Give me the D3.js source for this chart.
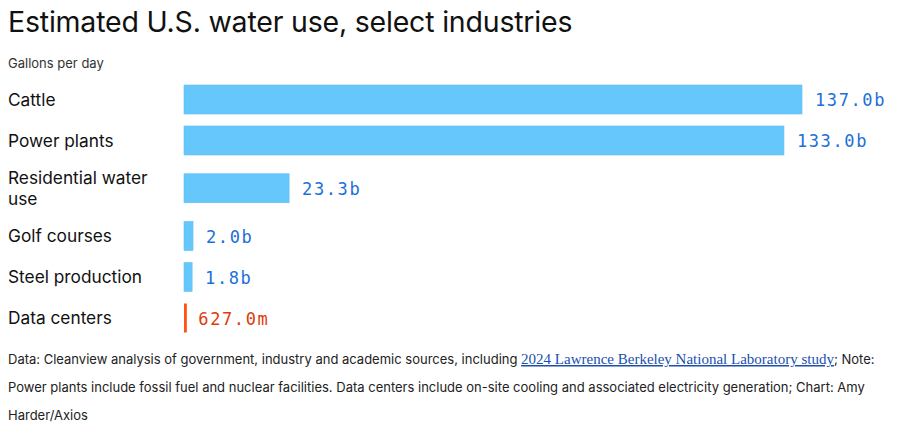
<!DOCTYPE html>
<html>
<head>
<meta charset="utf-8">
<script src="https://cdn.jsdelivr.net/npm/d3@7"></script>
<style>
  html, body { margin: 0; padding: 0; background: #fff; }
  svg { display: block; }
</style>
</head>
<body>
<svg id="chart" width="900" height="432"></svg>
<script>
const categories = ["Cattle", "Power plants", "Residential water use", "Golf courses", "Steel production", "Data centers"];
const values = [137.0, 133.0, 23.3, 2.0, 1.8, 0.627]; // billions of gallons per day
const highlight = ["Data centers"];
const title = "Estimated U.S. water use, select industries";
const subtitle = "Gallons per day";
const noteLines = [
  [{t: "Data: Cleanview analysis of government, industry and academic sources, including "},
   {t: "2024 Lawrence Berkeley National Laboratory study", link: true},
   {t: "; Note:"}],
  [{t: "Power plants include fossil fuel and nuclear facilities. Data centers include on-site cooling and associated electricity generation; Chart: Amy"}],
  [{t: "Harder/Axios"}]
];

const svg = d3.select("#chart");
const sans = "Inter, Roboto, 'Noto Sans', sans-serif";
const mono = "'DejaVu Sans Mono', 'Liberation Mono', monospace";

svg.append("text").attr("x", 8).attr("y", 32)
  .attr("font-family", sans).attr("font-size", 28.5).attr("fill", "#111")
  .attr("letter-spacing", -0.2)
  .text(title);

svg.append("text").attr("x", 8).attr("y", 68)
  .attr("font-family", sans).attr("font-size", 13).attr("fill", "#333")
  .text(subtitle);

// Label wrapping
const labelMax = 160;
const labelSize = 17.3;
const measure = svg.append("text").attr("font-family", sans).attr("font-size", labelSize);
function wrap(s) {
  const words = s.split(" ");
  const lines = [];
  let cur = "";
  words.forEach(w => {
    const test = cur ? cur + " " + w : w;
    measure.text(test);
    if (measure.node().getComputedTextLength() > labelMax && cur) {
      lines.push(cur); cur = w;
    } else cur = test;
  });
  lines.push(cur);
  return lines;
}
const wrapped = categories.map(wrap);
measure.remove();

// Row layout
const baseRow = 41, extraLine = 13.5, barH = 29, top0 = 79;
const rowH = wrapped.map(l => baseRow + (l.length - 1) * extraLine);
const rowTop = [];
let acc = top0;
rowH.forEach(h => { rowTop.push(acc); acc += h; });
const yTop = d3.scaleOrdinal().domain(categories).range(rowTop);
const yH = d3.scaleOrdinal().domain(categories).range(rowH);
const yCenter = c => yTop(c) + yH(c) / 2;

const x = d3.scaleLinear().domain([0, d3.max(values)]).range([184, 802]);

const data = categories.map((c, i) => ({c, v: values[i], lines: wrapped[i], hi: highlight.includes(c)}));

const fmt = v => v >= 1 ? v.toFixed(1) + "b" : (v * 1000).toFixed(1) + "m";

const g = svg.append("g");
// Labels
data.forEach(d => {
  const n = d.lines.length;
  const lh = 21;
  const cy = yCenter(d.c);
  const firstBase = cy + 6 - (n - 1) * lh / 2;
  const t = g.append("text").attr("font-family", sans).attr("font-size", labelSize).attr("fill", "#111");
  d.lines.forEach((ln, k) => {
    t.append("tspan").attr("x", 8).attr("y", firstBase + k * lh).text(ln);
  });
});

// Bars
g.selectAll("rect.bar").data(data).join("rect")
  .attr("class", "bar")
  .attr("x", x(0))
  .attr("y", d => yCenter(d.c) - barH / 2)
  .attr("width", d => x(d.v) - x(0))
  .attr("height", barH)
  .attr("fill", d => d.hi ? "#ff5215" : "#66c7fd")
  .attr("stroke", d => d.hi ? "none" : "#5ec0f6")
  .attr("stroke-width", 0.6);

// Value labels
g.selectAll("text.val").data(data).join("text")
  .attr("class", "val")
  .attr("x", d => x(d.v) + (d.hi ? 11.5 : 13))
  .attr("y", d => yCenter(d.c) + 6.5)
  .attr("font-family", mono).attr("font-size", 17)
  .attr("letter-spacing", 1.6)
  .attr("fill", d => d.hi ? "#de3c0c" : "#1d6fd8")
  .text(d => fmt(d.v));

// Footnote
const noteG = svg.append("g");
noteLines.forEach((parts, i) => {
  const t = noteG.append("text").attr("x", 8).attr("y", 364 + i * 28)
    .attr("font-family", sans).attr("font-size", 13).attr("fill", "#222");
  parts.forEach(p => {
    const ts = t.append("tspan").text(p.t);
    if (p.link) {
      ts.attr("font-family", "'Liberation Serif', 'DejaVu Serif', serif")
        .attr("font-size", 15).attr("fill", "#1a4fb0")
        .attr("text-decoration", "underline");
    }
  });
});
</script>
</body>
</html>
